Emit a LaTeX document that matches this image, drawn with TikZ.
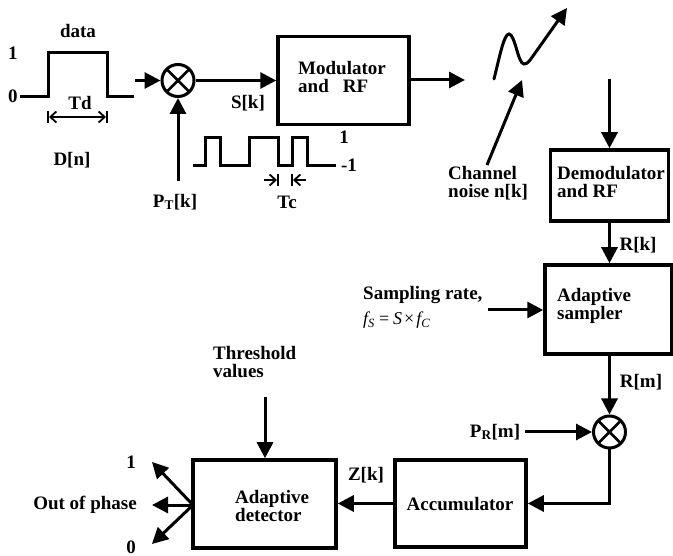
\documentclass[tikz,border=0pt]{standalone}
\usepackage{fontspec}
\setmainfont{Liberation Serif}
\usetikzlibrary{arrows.meta}
\begin{document}
\begin{tikzpicture}[x=1pt,y=-1pt,
  txt/.style={font=\fontsize{19}{18}\selectfont\bfseries, inner sep=0pt, align=left},
  blk/.style={draw, line width=3.5pt, minimum width=#1, inner sep=0pt},
  wire/.style={line width=3pt},
  arr/.style={wire, -{Triangle[length=16pt,width=16pt]}},
  mixer/.style={draw, circle, line width=3pt, minimum size=32pt, inner sep=0pt,
    path picture={\draw[line width=2.6pt] (path picture bounding box.north west) -- (path picture bounding box.south east)
      (path picture bounding box.north east) -- (path picture bounding box.south west);}},
  thin/.style={line width=1.8pt},
  barb/.style={thin, -{Straight Barb[length=6pt,width=11pt]}}
]
\useasboundingbox (0,0) rectangle (673,556);

% ---------- data pulse ----------
\node[txt] (data) at (78,31) {data};
\node[txt] (one1) at (13,53) {1};
\node[txt] (zero1) at (13,96) {0};
\draw[wire] (20,96.5) -- (48,96.5) -- (48,53) -- (107,53) -- (107,96.5) -- (134,96.5);
\node[txt] (td) at (80,103) {Td};
\draw[thin] (48,111) -- (48,123) (107,111) -- (107,123);
\draw[thin, {Straight Barb[length=6pt,width=11pt]}-{Straight Barb[length=6pt,width=11pt]}] (49,117) -- (106,117);
\node[txt] (dn) at (72,160) {D[n]};

% ---------- transmitter ----------
\node[mixer] (mix1) at (178,80.5) {};
\coordinate (din) at (135,80.5);
\draw[arr] (din) -- (mix1.west);
\node[blk=131pt, minimum height=88pt] (mod) at (343.5,80.5) {};
\node[txt] (modt) at (342,77) {Modulator\\and\hspace{14pt}RF};
\draw[arr] (mix1.east) -- (mod.west);
\node[txt] (sk) at (248,103) {S[k]};
\coordinate (pt) at (178,181);
\draw[arr] (pt) -- (mix1.south);
\node[txt] (ptl) at (175,202) {P\textsubscript{T}[k]};

% ---------- PN sequence ----------
\draw[wire] (193,165.5) -- (205,165.5) -- (205,137.5) -- (220,137.5) -- (220,165.5)
  -- (249,165.5) -- (249,137.5) -- (278,137.5) -- (278,165.5) -- (292,165.5)
  -- (292,137.5) -- (307,137.5) -- (307,165.5) -- (336,165.5);
\node[txt] (one2) at (344,137) {1};
\node[txt] (mone) at (349,165) {-1};
\draw[thin] (278,174) -- (278,186) (292,174) -- (292,186);
\draw[barb] (264,180) -- (277,180);
\draw[barb] (306,180) -- (293,180);
\node[txt] (tc) at (287,202) {Tc};

% ---------- channel ----------
\coordinate (chout) at (465,80);
\draw[arr] (mod.east |- chout) -- (chout);
\coordinate (wv0) at (494,79);
\coordinate (wv1) at (567,8);
\draw[wire, line cap=round, -{Triangle[length=16pt,width=16pt]}] (wv0) .. controls (500,55) and (504,34) .. (509,34)
  .. controls (515,34) and (518,64) .. (524,64) .. controls (528,64) and (530,60) .. (533,56) -- (wv1);
\coordinate (nz0) at (487,165);
\coordinate (nz1) at (522,80);
\draw[arr] (nz0) -- (nz1);
\node[txt, anchor=north west] (chn) at (448,166) {Channel\\noise n[k]};

% ---------- receiver ----------
\node[blk=118pt, minimum height=71pt] (demod) at (609.5,185.5) {};
\node[txt, anchor=north west] (demodt) at (557,166) {Demodulator\\and RF};
\coordinate (rxin) at (609.5,79);
\draw[arr] (rxin) -- (demod.north);
\node[blk=127pt, minimum height=89pt] (samp) at (608.5,309.5) {};
\node[txt, anchor=west] (sampt) at (557,306) {Adaptive\\sampler};
\draw[arr] (demod.south) -- (demod.south |- samp.north);
\node[txt] (rk) at (638,245) {R[k]};
\coordinate (sr) at (488,310);
\draw[arr] (sr) -- (samp.west |- sr);
\node[txt, anchor=west] (srt) at (363,295) {Sampling rate,};
\node[font=\fontsize{18}{18}\selectfont\itshape, inner sep=0pt, anchor=west] (srf) at (363,320)
  {f\textsubscript{S}\kern4pt\upshape{=}\kern4pt\itshape S\kern2pt\upshape{×}\kern2pt\itshape f\textsubscript{C}};

\node[mixer] (mix2) at (609.5,432) {};
\draw[arr] (demod.south |- samp.south) -- (mix2.north);
\node[txt] (rm) at (641,382) {R[m]};
\coordinate (pr) at (525,432);
\draw[arr] (pr) -- (mix2.west);
\node[txt] (prl) at (495,432) {P\textsubscript{R}[m]};

\node[blk=131pt, minimum height=87pt] (acc) at (460.5,503.5) {};
\node[txt] (acct) at (460,504) {Accumulator};
\draw[arr] (mix2.south) |- (acc.east);
\node[blk=143pt, minimum height=88pt] (det) at (264.5,504) {};
\node[txt, anchor=west] (dett) at (235,506) {Adaptive\\detector};
\draw[arr] (acc.west) -- (det.east |- acc.west);
\node[txt] (zk) at (366,475) {Z[k]};

\node[txt, anchor=north west] (thr) at (213,346) {Threshold\\values};
\coordinate (th) at (265,397);
\draw[arr] (th) -- (th |- det.north);

% ---------- outputs ----------
\coordinate (o) at (193,505);
\coordinate (o1) at (152,462);
\coordinate (o2) at (152,505);
\coordinate (o3) at (152,544);
\draw[arr] (o) -- (o1);
\draw[arr] (o) -- (o2);
\draw[arr] (o) -- (o3);
\node[txt] (l1) at (131,462) {1};
\node[txt] (lo) at (85,505) {Out of phase};
\node[txt] (l0) at (131,547) {0};
\end{tikzpicture}
\end{document}
